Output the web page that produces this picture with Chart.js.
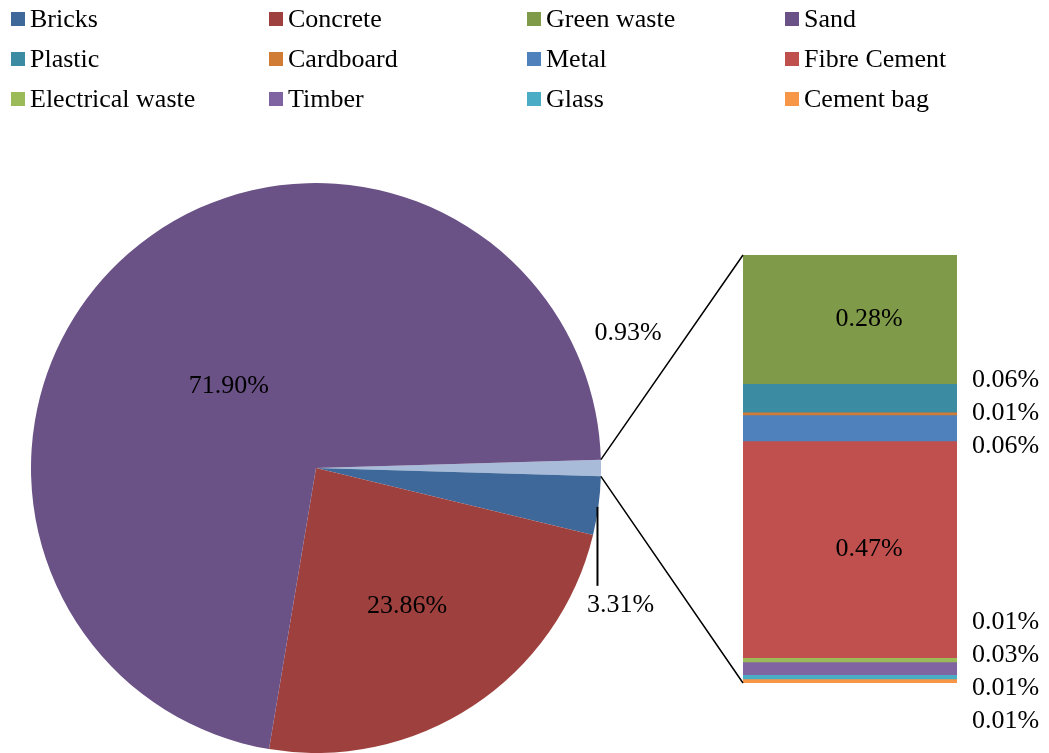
<!DOCTYPE html>
<html>
<head>
<meta charset="utf-8">
<script src="https://cdn.jsdelivr.net/npm/chart.js@4"></script>
<style>
  body { margin: 0; background: #fff; }
  #wrap { position: relative; width: 1049px; height: 753px; overflow: hidden; }
  #wrap canvas { position: absolute; left: 0; top: 0; }
  #legend {
    position: absolute; left: 11px; top: -1px;
    display: grid; grid-template-columns: repeat(4, 258px);
    font: 26px "Liberation Serif", "Times New Roman", serif; color: #000;
  }
  .item { display: flex; align-items: center; height: 40px; white-space: nowrap; }
  .box { width: 14px; height: 14px; margin-right: 5px; flex: none; }
</style>
</head>
<body>
<div id="wrap">
  <canvas id="pieChart" width="1049" height="753"></canvas>
  <canvas id="barChart" width="1049" height="753"></canvas>
  <div id="legend"></div>
</div>
<script>
// ===== Data =====
const legendLabels = [
  'Bricks', 'Concrete', 'Green waste', 'Sand',
  'Plastic', 'Cardboard', 'Metal', 'Fibre Cement',
  'Electrical waste', 'Timber', 'Glass', 'Cement bag',
];

// pie: first slice is the "other" group that is broken out into the bar
const pieLabels = ['Other', 'Bricks', 'Concrete', 'Sand'];
const pieValues = [0.93, 3.31, 23.86, 71.90];

// bar, top to bottom
const barLabels = ['Green waste', 'Plastic', 'Cardboard', 'Metal', 'Fibre Cement',
  'Electrical waste', 'Timber', 'Glass', 'Cement bag'];
const barValues = [0.280, 0.062, 0.006, 0.057, 0.472, 0.009, 0.028, 0.009, 0.009];

const COLORS = {
  'Other': '#a8bbd9',
  'Bricks': '#3e6899',
  'Concrete': '#9e413e',
  'Green waste': '#7f9a48',
  'Sand': '#6a5186',
  'Plastic': '#3b8ca2',
  'Cardboard': '#d07c35',
  'Metal': '#4f81bd',
  'Fibre Cement': '#c0504d',
  'Electrical waste': '#9bbb59',
  'Timber': '#8064a2',
  'Glass': '#4bacc6',
  'Cement bag': '#f79646',
};

const LABEL_FONT = '26px "Liberation Serif", "Times New Roman", serif';

// ===== Legend (HTML) =====
const legendEl = document.getElementById('legend');
legendLabels.forEach((name) => {
  const item = document.createElement('div');
  item.className = 'item';
  const box = document.createElement('span');
  box.className = 'box';
  box.style.background = COLORS[name];
  item.appendChild(box);
  item.appendChild(document.createTextNode(name));
  legendEl.appendChild(item);
});

// ===== Pie labels =====
const pieLabelPlugin = {
  id: 'pieLabels',
  afterDatasetsDraw(chart) {
    const ctx = chart.ctx;
    const meta = chart.getDatasetMeta(0);
    ctx.save();
    ctx.font = LABEL_FONT;
    ctx.fillStyle = '#000';
    ctx.strokeStyle = '#000';
    ctx.textAlign = 'center';
    ctx.textBaseline = 'middle';
    meta.data.forEach((arc, i) => {
      const { x, y, startAngle, endAngle, outerRadius } = arc.getProps(['x', 'y', 'startAngle', 'endAngle', 'outerRadius']);
      const mid = (startAngle + endAngle) / 2;
      const text = pieValues[i].toFixed(2) + '%';
      const ox = x + Math.cos(mid) * outerRadius;
      const oy = y + Math.sin(mid) * outerRadius;
      if (i === 0) {
        // small "other" slice: label above the edge
        ctx.fillText(text, ox + 27, oy - 135);
      } else if (i === 1) {
        // bricks: leader line straight down
        ctx.lineWidth = 2;
        ctx.beginPath();
        ctx.moveTo(ox - 1, oy + 1);
        ctx.lineTo(ox - 1, oy + 80);
        ctx.stroke();
        ctx.fillText(text, ox + 22, oy + 99);
      } else {
        const frac = i === 3 ? 0.42 : 0.58;
        const ang = i === 3 ? mid - 0.1 : mid;
        ctx.fillText(text, x + Math.cos(ang) * outerRadius * frac, y + Math.sin(ang) * outerRadius * frac);
      }
    });
    ctx.restore();
  },
};

const pieChart = new Chart(document.getElementById('pieChart'), {
  type: 'pie',
  data: {
    labels: pieLabels,
    datasets: [{
      data: pieValues,
      backgroundColor: pieLabels.map((n) => COLORS[n]),
      borderWidth: 0,
    }],
  },
  options: {
    responsive: false,
    animation: false,
    rotation: 90 - (pieValues[0] * 3.6) / 2,
    radius: 285,
    layout: { padding: { left: 31, top: 183, right: 448, bottom: 0 } },
    plugins: {
      legend: { display: false },
      tooltip: { enabled: false },
    },
  },
  plugins: [pieLabelPlugin],
});

// ===== Bar labels + connector lines =====
function spreadLabels(ys, gap) {
  let groups = ys.map((y) => ({ ys: [y], top: y }));
  let merged = true;
  while (merged) {
    merged = false;
    for (let i = 1; i < groups.length; i++) {
      const a = groups[i - 1];
      const b = groups[i];
      if (a.top + a.ys.length * gap > b.top) {
        const all = a.ys.concat(b.ys);
        const mean = all.reduce((s, v) => s + v, 0) / all.length;
        groups.splice(i - 1, 2, { ys: all, top: mean - ((all.length - 1) * gap) / 2 });
        merged = true;
        break;
      }
    }
  }
  return groups.flatMap((g) => g.ys.map((_, k) => g.top + k * gap));
}

const barLabelPlugin = {
  id: 'barLabels',
  afterDraw(chart) {
    const ctx = chart.ctx;
    ctx.save();

    // connector lines from the small pie slice to the bar
    const arc = pieChart.getDatasetMeta(0).data[0];
    const { x, y, startAngle, endAngle, outerRadius } = arc.getProps(['x', 'y', 'startAngle', 'endAngle', 'outerRadius']);
    const bars = barLabels.map((_, i) => chart.getDatasetMeta(i).data[0]);
    const left = bars[0].x - bars[0].width / 2;
    const top = Math.min(bars[0].y, bars[0].base);
    const last = bars[bars.length - 1];
    const bottom = Math.max(last.y, last.base);
    ctx.strokeStyle = '#000';
    ctx.lineWidth = 1.5;
    ctx.beginPath();
    ctx.moveTo(x + Math.cos(startAngle) * outerRadius, y + Math.sin(startAngle) * outerRadius);
    ctx.lineTo(left, top);
    ctx.moveTo(x + Math.cos(endAngle) * outerRadius, y + Math.sin(endAngle) * outerRadius);
    ctx.lineTo(left, bottom);
    ctx.stroke();

    // value labels
    ctx.font = LABEL_FONT;
    ctx.fillStyle = '#000';
    ctx.textBaseline = 'middle';
    const outside = [];
    bars.forEach((bar, i) => {
      const h = Math.abs(bar.base - bar.y);
      const cy = (bar.base + bar.y) / 2;
      const text = barValues[i].toFixed(2) + '%';
      if (h > 40) {
        ctx.textAlign = 'center';
        ctx.fillText(text, bar.x + 19, cy);
      } else {
        outside.push({ text, cy, right: bar.x + bar.width / 2 });
      }
    });
    const ys = spreadLabels(outside.map((o) => o.cy), 33);
    ctx.textAlign = 'left';
    outside.forEach((o, k) => ctx.fillText(o.text, o.right + 15, ys[k]));
    ctx.restore();
  },
};

new Chart(document.getElementById('barChart'), {
  type: 'bar',
  data: {
    labels: [''],
    datasets: barLabels.map((name, i) => ({
      label: name,
      data: [barValues[i]],
      backgroundColor: COLORS[name],
      borderWidth: 0,
      barPercentage: 1,
      categoryPercentage: 1,
    })),
  },
  options: {
    responsive: false,
    animation: false,
    layout: { padding: { left: 743, right: 92, top: 255, bottom: 70 } },
    scales: {
      x: { stacked: true, display: false },
      y: {
        stacked: true,
        display: false,
        reverse: true,
        min: 0,
        max: barValues.reduce((s, v) => s + v, 0),
      },
    },
    plugins: {
      legend: { display: false },
      tooltip: { enabled: false },
    },
  },
  plugins: [barLabelPlugin],
});
</script>
</body>
</html>
